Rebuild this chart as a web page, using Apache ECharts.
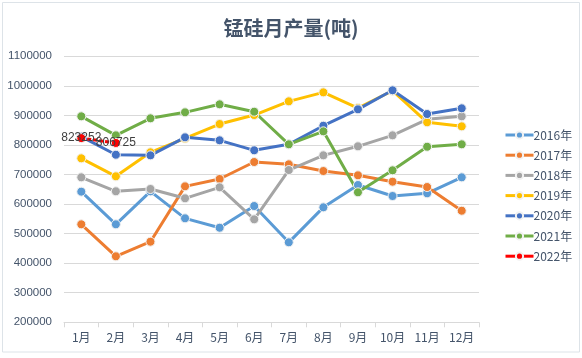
<!DOCTYPE html>
<html>
<head>
<meta charset="utf-8">
<script src="https://cdn.jsdelivr.net/npm/echarts@6/dist/echarts.min.js"></script>
<style>
html,body{margin:0;padding:0;background:#fff;}
#chart{width:582px;height:358px;}
</style>
</head>
<body>
<div id="chart"></div>
<script>
const categories = ['1月','2月','3月','4月','5月','6月','7月','8月','9月','10月','11月','12月'];
const seriesNames = ['2016年','2017年','2018年','2019年','2020年','2021年','2022年'];
const colors = ['#5B9BD5','#ED7D31','#A5A5A5','#FFC000','#4472C4','#70AD47','#FF0000'];
const y2016 = [642000,531500,643000,551800,520000,593400,470600,589000,664500,627300,636400,690500];
const y2017 = [531500,423300,472700,660000,684800,742300,734500,711800,697300,675700,657700,577500];
const y2018 = [690500,643200,651000,619500,656700,548400,715200,764900,795400,832600,886700,896900];
const y2019 = [754800,693900,775100,822000,870800,901300,947600,978000,925000,983500,876600,863000];
const y2020 = [828000,767000,764900,825800,815700,781900,802200,865100,920600,985000,904700,924000];
const y2021 = [896900,832600,890100,910400,937500,912500,802200,846100,639800,714200,794000,802200];
const y2022 = [823252,806725];
const yTicks = {min:200000, max:1100000, interval:100000};

const allData = [y2016,y2017,y2018,y2019,y2020,y2021,y2022];
const txt = '#44546A';

const chart = echarts.init(document.getElementById('chart'), null, {renderer:'canvas'});
const series = allData.map((d,i)=>{
  const s = {
    name: seriesNames[i],
    type: 'line',
    data: d,
    symbol: 'circle',
    symbolSize: 9,
    lineStyle: {width: 3, color: colors[i]},
    itemStyle: {color: colors[i], borderColor: '#f2f2f2', borderWidth: 1},
    emphasis: {disabled: true},
    animation: false
  };
  if (i === 6) {
    s.lineStyle.type = [4,2];
    s.label = {show: true, position: 'inside', color: '#404040', fontSize: 12,
      fontFamily: 'Liberation Sans, Arial, sans-serif', formatter: p => String(p.value)};
  }
  return s;
});

chart.setOption({
  backgroundColor: '#fff',
  animation: false,
  title: {
    text: '锰硅月产量(吨)',
    left: 'center',
    top: 13,
    textStyle: {fontSize: 20, fontWeight: 'bold', color: txt, fontFamily: 'Noto Sans CJK SC'}
  },
  graphic: [{
    type: 'rect',
    shape: {x: 2.5, y: 2.5, width: 577, height: 349.5},
    style: {fill: 'none', stroke: '#dde3e8', lineWidth: 1},
    silent: true
  }],
  legend: {
    orient: 'vertical',
    left: 499,
    top: 124,
    itemWidth: 28,
    itemHeight: 9,
    itemGap: 8.2,
    data: seriesNames,
    lineStyle: {type: 'solid', width: 3},
    textStyle: {color: txt, fontSize: 12, fontFamily: 'Noto Sans CJK SC', padding: [0,0,0,-5]}
  },
  grid: {left: 64, right: 103, top: 56.3, bottom: 35.7},
  xAxis: {
    type: 'category',
    data: categories,
    boundaryGap: true,
    axisLine: {lineStyle: {color: '#d9d9d9'}},
    axisTick: {show: true, length: 5, lineStyle: {color: '#d9d9d9'}},
    axisLabel: {color: txt, fontSize: 12, margin: 9, fontFamily: 'Noto Sans CJK SC'}
  },
  yAxis: {
    type: 'value',
    min: yTicks.min, max: yTicks.max, interval: yTicks.interval,
    axisLine: {show: false},
    axisTick: {show: false},
    splitLine: {lineStyle: {color: '#d9d9d9'}},
    axisLabel: {color: txt, fontSize: 11.5, margin: 12, formatter: v => String(v),
      fontFamily: 'Liberation Sans, Arial, sans-serif'}
  },
  series: series
});
</script>
</body>
</html>
